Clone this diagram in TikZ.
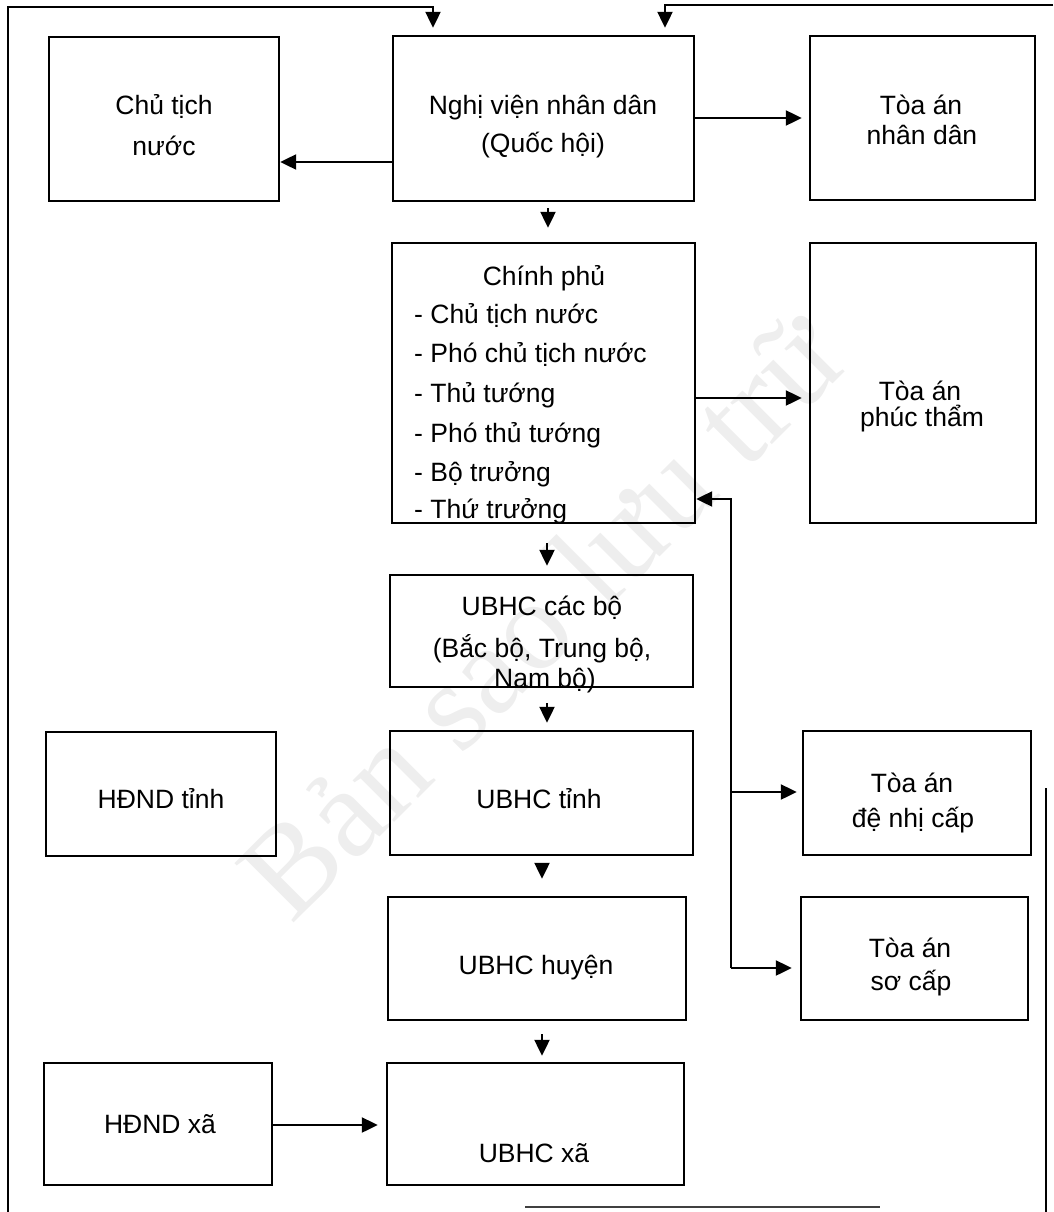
\documentclass[tikz,border=0pt]{standalone}
\usepackage{fontspec}
\setmainfont{Liberation Sans}
\newfontfamily\wmfont{Liberation Serif}
\usetikzlibrary{arrows.meta}
\begin{document}
\begin{tikzpicture}[x=1pt,y=-1pt,
  box/.style={draw,line width=2.4pt,inner sep=0pt},
  txt/.style={anchor=base,inner sep=0pt,font=\fontsize{26.5}{30}\selectfont},
  ltxt/.style={anchor=base west,inner sep=0pt,font=\fontsize{26.5}{30}\selectfont},
  arr/.style={line width=2.2pt,-{Triangle[length=16pt,width=15pt]}},
  ln/.style={line width=2.2pt}]
\useasboundingbox (0,0) rectangle (1053,1212);
% watermark
\node[font=\wmfont\fontsize{128}{128}\selectfont,text=gray!13,rotate=45,inner sep=0pt] (wm) at (540,615) {Bản sao lưu trữ};
% boxes
\node[box,minimum width=230pt,minimum height=164pt] (ctn) at (164,119) {};
\node[box,minimum width=301pt,minimum height=165pt] (nv) at (543.5,118.5) {};
\node[box,minimum width=225pt,minimum height=164pt] (tand) at (922.5,118) {};
\node[box,minimum width=303pt,minimum height=280pt] (cp) at (543.5,383) {};
\node[box,minimum width=226pt,minimum height=280pt] (tapt) at (923,383) {};
\node[box,minimum width=303pt,minimum height=112pt] (cb) at (541.5,631) {};
\node[box,minimum width=230pt,minimum height=124pt] (hdt) at (161,794) {};
\node[box,minimum width=303pt,minimum height=124pt] (tinh) at (541.5,793) {};
\node[box,minimum width=228pt,minimum height=124pt] (tanc) at (917,793) {};
\node[box,minimum width=298pt,minimum height=123pt] (huyen) at (537,958.5) {};
\node[box,minimum width=227pt,minimum height=123pt] (tasc) at (914.5,958.5) {};
\node[box,minimum width=228pt,minimum height=122pt] (hdx) at (158,1124) {};
\node[box,minimum width=297pt,minimum height=122pt] (xa) at (535.5,1124) {};
% texts
\node[txt] (ctn1) at (164,115) {Chủ tịch};
\node[txt] (ctn2) at (164,155) {nước};
\node[txt] (nv1) at (543,114) {Nghị viện nhân dân};
\node[txt] (nv2) at (543,153) {(Quốc hội)};
\node[txt] (tand1) at (921,114) {Tòa án};
\node[txt] (tand2) at (922,145) {nhân dân};
\node[txt] (cp0) at (544,285) {Chính phủ};
\node[ltxt] (cp1) at (414,323) {- Chủ tịch nước};
\node[ltxt] (cp2) at (414,362) {- Phó chủ tịch nước};
\node[ltxt] (cp3) at (414,402) {- Thủ tướng};
\node[ltxt] (cp4) at (414,442) {- Phó thủ tướng};
\node[ltxt] (cp5) at (414,481) {- Bộ trưởng};
\node[ltxt] (cp6) at (414,518) {- Thứ trưởng};
\node[txt] (tapt1) at (920,400) {Tòa án};
\node[txt] (tapt2) at (922,426) {phúc thẩm};
\node[txt] (cb1) at (542,615) {UBHC các bộ};
\node[txt] (cb2) at (542,657) {(Bắc bộ, Trung bộ,};
\node[txt] (cb3) at (545,687) {Nam bộ)};
\node[txt] (hdt1) at (161,808) {HĐND tỉnh};
\node[txt] (tinh1) at (539,808) {UBHC tỉnh};
\node[txt] (tanc1) at (912,792) {Tòa án};
\node[txt] (tanc2) at (913,827) {đệ nhị cấp};
\node[txt] (huyen1) at (536,974) {UBHC huyện};
\node[txt] (tasc1) at (910,957) {Tòa án};
\node[txt] (tasc2) at (911,990) {sơ cấp};
\node[txt] (hdx1) at (160,1133) {HĐND xã};
\node[txt] (xa1) at (534,1162) {UBHC xã};
% helper coordinates
\coordinate (fl) at (8,1212);
\coordinate (tl) at (433,7);
\coordinate (fr) at (1053,5);
\coordinate (tr) at (665,5);
\coordinate (frb) at (1046,1212);
\coordinate (frt) at (1046,788);
\coordinate (bl) at (525,1207);
\coordinate (br) at (880,1207);
\coordinate (y162) at (0,162);
\coordinate (y118) at (0,118);
\coordinate (y398) at (0,398);
\coordinate (y1125) at (0,1125);
\coordinate (c548) at (548,0);
\coordinate (c547) at (547,0);
\coordinate (c542) at (542,0);
\coordinate (j1) at (731,499);
\coordinate (j2) at (731,792);
\coordinate (j3) at (731,968);
% frame lines
\draw[arr,shorten >=7pt] (fl) |- (tl) -- (tl |- nv.north);
\draw[arr,shorten >=7pt] (fr) -- (tr) -- (tr |- nv.north);
\draw[ln] (frt) -- (frb);
\draw[ln,black!75] (bl) -- (br);
% connectors
\draw[arr] (nv.west |- y162) -- (ctn.east |- y162);
\draw[arr,shorten >=7pt] (nv.east |- y118) -- (tand.west |- y118);
\draw[arr,shorten <=6pt,shorten >=14pt] (nv.south -| c548) -- (cp.north -| c548);
\draw[arr,shorten >=7pt] (cp.east |- y398) -- (tapt.west |- y398);
\draw[arr,shorten <=19pt,shorten >=8pt] (cp.south -| c547) -- (cb.north -| c547);
\draw[arr,shorten <=15pt,shorten >=7pt] (cb.south -| c547) -- (tinh.north -| c547);
\draw[arr,shorten <=7pt,shorten >=17pt] (tinh.south -| c542) -- (huyen.north -| c542);
\draw[arr,shorten <=13pt,shorten >=6pt] (huyen.south -| c542) -- (xa.north -| c542);
\draw[arr] (j3) -- (j1) -- (cp.east |- j1);
\draw[arr,shorten >=5pt] (j2) -- (tanc.west |- j2);
\draw[arr,shorten >=8pt] (j3) -- (tasc.west |- j3);
\draw[arr,shorten >=8pt] (hdx.east |- y1125) -- (xa.west |- y1125);
\end{tikzpicture}
\end{document}
